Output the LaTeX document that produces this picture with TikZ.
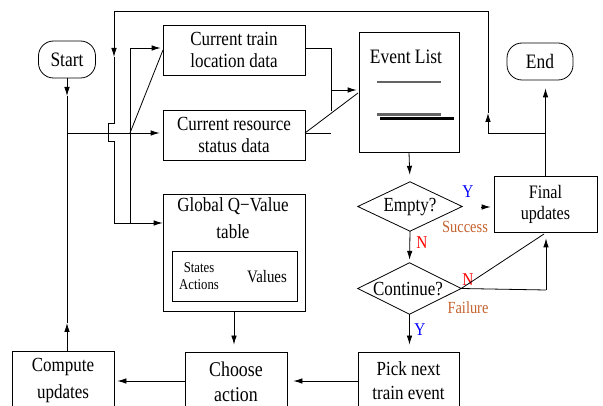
\documentclass[tikz,border=0pt]{standalone}
\usepackage{fontspec}
\setmainfont{Liberation Serif}[FakeStretch=0.85]
\usetikzlibrary{arrows.meta,calc}
\newcommand{\fsz}[2]{\fontsize{#1}{#2}\selectfont}
\definecolor{brn}{RGB}{196,98,45}
\definecolor{gline}{RGB}{100,100,100}
\tikzset{
  box/.style={draw, line width=0.8pt, inner sep=0pt, align=center},
  term/.style={draw, line width=0.8pt, rounded corners=15pt, inner sep=0pt},
  arr/.style={-{Latex[length=9pt,width=5.5pt]}, line width=0.8pt},
  ln/.style={line width=0.8pt},
  lab/.style={inner sep=0pt},
}
\begin{document}
\begin{tikzpicture}[x=1pt,y=-1pt]
\useasboundingbox (0,0) rectangle (603,406);
\clip (0,0) rectangle (603,406);
% terminals
\node[term, minimum width=57pt, minimum height=37pt, font=\fsz{20.5}{22}] (start) at (67,59.5) {Start};
\node[term, minimum width=66pt, minimum height=37pt, font=\fsz{20.5}{22}] (end) at (540,61.5) {End};
% data boxes
\node[box, minimum width=142pt, minimum height=50pt, font=\fsz{20}{22}] (curtrain) at (234,50) {Current train\\location data};
\node[box, minimum width=142pt, minimum height=50pt, font=\fsz{20}{22}] (curres) at (234,135) {Current resource\\status data};
\node[box, minimum width=100pt, minimum height=120pt] (evlist) at (409,92) {};
\node[lab, font=\fsz{20.5}{22}] (evtitle) at (406,57) {Event List};
\fill[gline] (377,81) rectangle (441,83.5);
\fill[gline] (377,113.5) rectangle (441,116);
\fill[black] (380,117.5) rectangle (454,120);
% global Q table
\node[box, minimum width=142pt, minimum height=117pt] (globalq) at (234,252.5) {};
\node[lab, anchor=north, align=center, font=\fsz{20}{27}] (gqtitle) at (233,197) {Global Q−Value\\table};
\node[box, minimum width=125pt, minimum height=50pt] (inner) at (234.5,276) {};
\node[lab, align=center, font=\fsz{15}{17}] (states) at (199,276.5) {States\\Actions};
\node[lab, font=\fsz{17.5}{20}] (values) at (267,277) {Values};
% decision diamonds
\node[minimum width=104pt, minimum height=49pt, inner sep=0pt] (empty) at (410,206.5) {};
\draw[ln] (empty.west) -- (empty.north) -- (empty.east) -- (empty.south) -- cycle;
\node[lab, font=\fsz{20}{22}] (emptytxt) at (410,207) {Empty?};
\node[minimum width=103pt, minimum height=51pt, inner sep=0pt] (cont) at (409.5,288.5) {};
\draw[ln] (cont.west) -- (cont.north) -- (cont.east) -- (cont.south) -- cycle;
\node[lab, font=\fsz{20}{22}] (conttxt) at (408,289) {Continue?};
% final
\node[box, minimum width=103pt, minimum height=56pt, font=\fsz{19}{21}] (final) at (545.5,204) {Final\\updates};
% bottom row
\node[box, minimum width=102pt, minimum height=60pt, font=\fsz{20}{27}] (compute) at (63,381) {Compute\\updates};
\node[box, minimum width=102pt, minimum height=60pt, font=\fsz{21}{25}] (choose) at (236,382) {Choose\\action};
\node[box, minimum width=101pt, minimum height=58pt, font=\fsz{20}{24}] (pick) at (408.5,381) {Pick next\\train event};
% labels
\node[lab, text=blue, font=\fsz{18}{20}] (y1) at (468,192) {Y};
\node[lab, text=brn, font=\fsz{17}{19}] (succ) at (465,227) {Success};
\node[lab, text=red, font=\fsz{18}{20}] (n1) at (422,243) {N};
\node[lab, text=red, font=\fsz{18}{20}] (n2) at (468,280) {N};
\node[lab, text=brn, font=\fsz{17}{19}] (fail) at (468,308) {Failure};
\node[lab, text=blue, font=\fsz{18}{20}] (y2) at (420,330) {Y};
% coordinates
\coordinate (sA) at (67,96);
\coordinate (sJ) at (67,133);
\coordinate (cA) at (67,323);
\coordinate (vT) at (130,48);
\coordinate (vJ) at (130,133);
\coordinate (vB) at (130,223);
\coordinate (fT) at (546,133);
\coordinate (fL) at (488,133);
\coordinate (fA) at (488,113);
\coordinate (tR) at (488,11);
\coordinate (tL) at (114,11);
\coordinate (dA) at (114,57);
\coordinate (b1) at (114,123);
\coordinate (b2) at (108,123);
\coordinate (b3) at (108,141);
\coordinate (b4) at (114,141);
\coordinate (dB) at (114,223);
\coordinate (rT) at (331,48);
\coordinate (rM) at (331,90);
\coordinate (rB) at (331,111);
\coordinate (rR) at (305,133);
\coordinate (rR2) at (331,133);
\coordinate (eA) at (481,207);
\coordinate (kR) at (546,290);
% start column
\draw[arr] (start.south) -- (sA);
\draw[ln] (sA) -- (sJ);
\draw[arr] (sJ |- compute.north) -- (cA);
\draw[ln] (cA) -- (sJ);
\draw[arr, shorten >=3pt] (sJ) -- (sJ -| curres.west);
% x=130 distribution line
\draw[ln] (vT) -- (vB);
\draw[arr, shorten >=2pt] (vT) -- (vT -| curtrain.west);
\draw[ln] (vJ) -- (163,50);
% feedback loop from final updates
\draw[arr, shorten >=8pt] (final.north) -- (final.north |- end.south);
\draw[ln] (fT) -- (fL);
\draw[arr] (fL) -- (fA);
\draw[ln] (fA) -- (tR) -- (tL);
\draw[arr] (tL) -- (dA);
\draw[ln] (dA) -- (b1) -- (b2) -- (b3) -- (b4) -- (dB);
\draw[arr] (dB) -- (dB -| globalq.west);
% into event list
\draw[ln] (rR |- rT) -- (rT) -- (rB);
\draw[arr, shorten >=2pt] (rM) -- (rM -| evlist.west);
\draw[ln] (rR) -- (rR2);
\draw[ln] (rR) -- (358,93);
% decisions
\draw[arr, shorten >=7pt] (evlist.south) -- (empty.north);
\draw[arr, shorten >=3pt] (eA) -- (eA -| final.west);
\draw[arr, shorten >=3pt] (empty.south) -- (cont.north);
\draw[ln] (cont.east) -- (kR);
\draw[arr, shorten >=6pt] (kR) -- (kR |- final.south);
\draw[ln] (cont.east) -- (544,234);
\draw[arr, shorten >=7pt] (cont.south) -- (cont.south |- pick.north);
% bottom row
\draw[arr, shorten >=6pt] (pick.west) -- (pick.west -| choose.east);
\draw[arr, shorten >=3pt] (choose.west |- pick.west) -- (pick.west -| compute.east);
\draw[arr, shorten >=7pt] (globalq.south) -- (globalq.south |- choose.north);
\end{tikzpicture}
\end{document}
